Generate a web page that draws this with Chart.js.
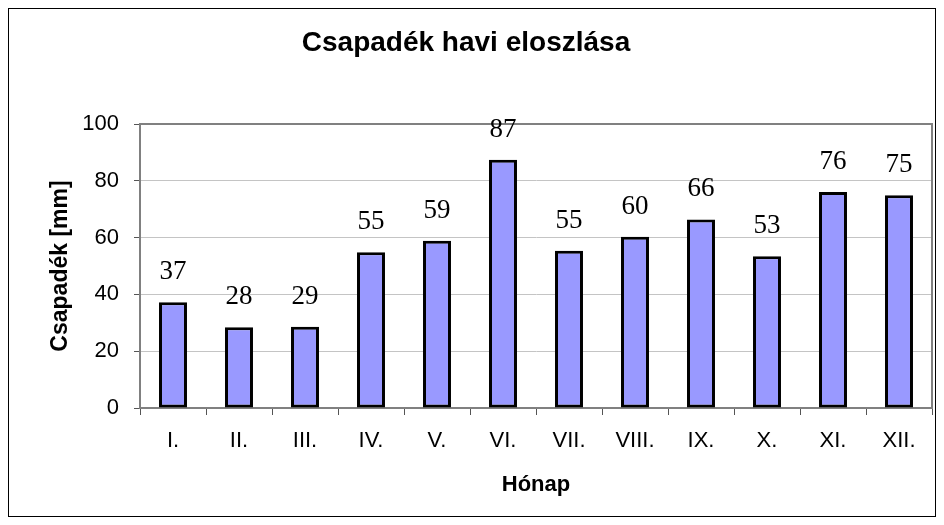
<!DOCTYPE html>
<html>
<head>
<meta charset="utf-8">
<script src="https://cdn.jsdelivr.net/npm/chart.js@4"></script>
<style>
  html, body { margin: 0; padding: 0; background: #ffffff; }
  #wrap { width: 944px; height: 525px; }
</style>
</head>
<body>
<div id="wrap"><canvas id="c" width="944" height="525"></canvas></div>
<script>
// ---- data ----
const months = ['I.', 'II.', 'III.', 'IV.', 'V.', 'VI.', 'VII.', 'VIII.', 'IX.', 'X.', 'XI.', 'XII.'];
const precipitation = [37.2, 28.4, 28.6, 54.8, 58.9, 87.4, 55.4, 60.3, 66.4, 53.4, 76.1, 74.9];
const yTicks = [0, 20, 40, 60, 80, 100];
const chartTitle = 'Csapadék havi eloszlása';
const xTitle = 'Hónap';
const yTitle = 'Csapadék [mm]';

const frame = {
  id: 'frame',
  beforeDraw(chart) {
    const ctx = chart.ctx;
    ctx.save();
    ctx.fillStyle = '#ffffff';
    ctx.fillRect(0, 0, chart.width, chart.height);
    ctx.strokeStyle = '#000000';
    ctx.lineWidth = 1;
    ctx.strokeRect(8.5, 8.5, chart.width - 17, chart.height - 17);
    ctx.restore();
  },
  afterDatasetsDraw(chart) {
    const ctx = chart.ctx;
    const a = chart.chartArea;
    ctx.save();
    ctx.strokeStyle = '#808080';
    ctx.lineWidth = 2;
    ctx.beginPath();
    ctx.moveTo(a.left, a.top);
    ctx.lineTo(a.right, a.top);
    ctx.lineTo(a.right, a.bottom);
    ctx.stroke();
    // value labels
    const meta = chart.getDatasetMeta(0);
    ctx.fillStyle = '#000000';
    ctx.font = '27px "Liberation Serif", "Times New Roman", serif';
    ctx.textAlign = 'center';
    ctx.textBaseline = 'alphabetic';
    meta.data.forEach((bar, i) => {
      const v = chart.data.datasets[0].data[i];
      ctx.fillText(String(Math.round(v)), bar.x, bar.y - 23);
    });
    ctx.restore();
  }
};

new Chart(document.getElementById('c'), {
  type: 'bar',
  data: {
    labels: months,
    datasets: [{
      data: precipitation,
      backgroundColor: '#9999ff',
      borderColor: '#000000',
      borderWidth: 3,
      borderSkipped: false,
      barPercentage: 0.424,
      categoryPercentage: 1.0
    }]
  },
  options: {
    responsive: false,
    animation: false,
    devicePixelRatio: 1,
    layout: { padding: { left: 0, right: 12, top: 0, bottom: 0 } },
    plugins: {
      legend: { display: false },
      tooltip: { enabled: false },
      title: {
        display: true,
        text: chartTitle,
        color: '#000000',
        font: { family: '"Liberation Sans", Arial, sans-serif', size: 28, weight: 'bold', lineHeight: 1.2 },
        padding: { top: 26, bottom: 64.4 }
      }
    },
    scales: {
      x: {
        grid: {
          offset: true,
          drawOnChartArea: false,
          drawTicks: true,
          tickLength: 7,
          tickColor: '#555555',
          tickWidth: 1
        },
        border: { color: '#808080', width: 2 },
        ticks: {
          color: '#000000',
          padding: 13,
          maxRotation: 0,
          font: { family: '"Liberation Sans", Arial, sans-serif', size: 22 }
        },
        title: {
          display: true,
          text: xTitle,
          color: '#000000',
          font: { family: '"Liberation Sans", Arial, sans-serif', size: 22, weight: 'bold', lineHeight: 1.2 },
          padding: { top: 0, bottom: 26.8 }
        },
        afterFit(scale) { scale.height = 117; }
      },
      y: {
        min: 0,
        max: 100,
        afterBuildTicks(scale) { scale.ticks = yTicks.map(v => ({ value: v })); },
        grid: {
          color: '#c4c4c4',
          lineWidth: 1,
          borderDash: [2, 1],
          drawTicks: true,
          tickLength: 6,
          tickColor: '#555555',
          tickBorderDash: [],
          tickWidth: 1
        },
        border: { color: '#808080', width: 2, dash: [] },
        ticks: {
          color: '#000000',
          padding: 15,
          font: { family: '"Liberation Sans", Arial, sans-serif', size: 22 }
        },
        title: {
          display: true,
          text: yTitle,
          color: '#000000',
          font: { family: '"Liberation Sans", Arial, sans-serif', size: 23, weight: 'bold', lineHeight: 1.2 },
          padding: { top: 47, bottom: 0 }
        },
        afterFit(scale) { scale.width = 140; }
      }
    }
  },
  plugins: [frame]
});
</script>
</body>
</html>
